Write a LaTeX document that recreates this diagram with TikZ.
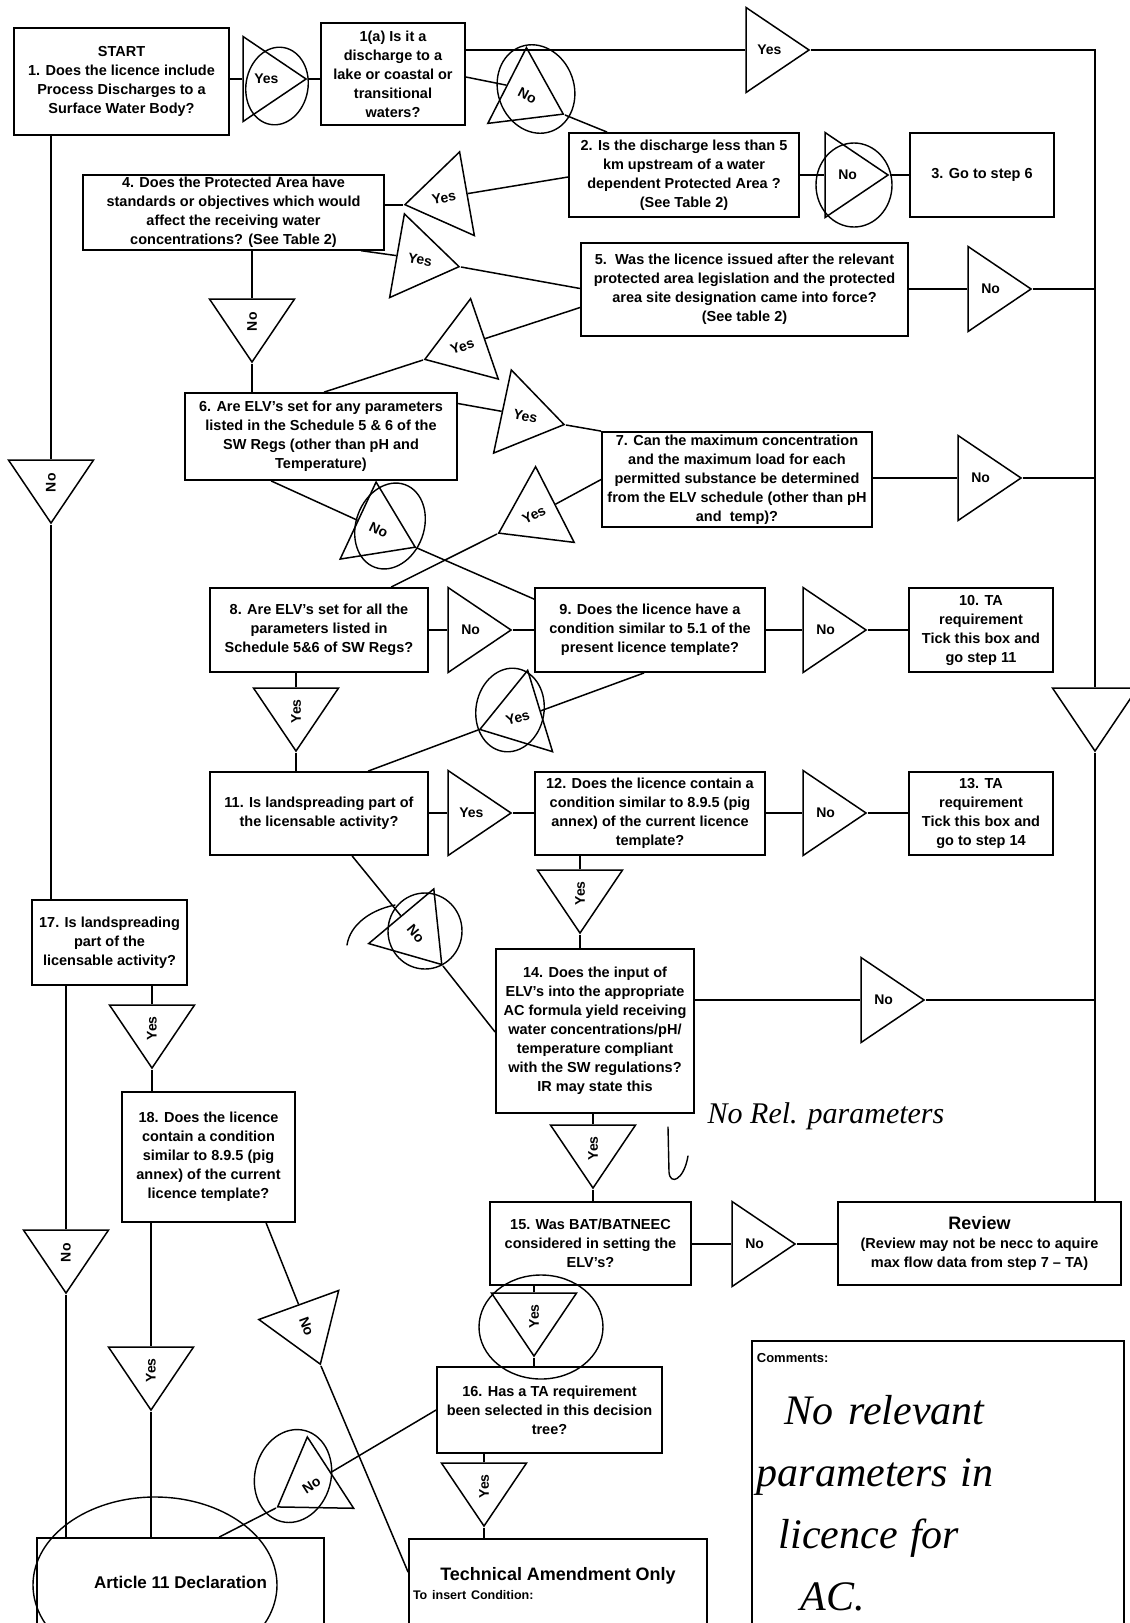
\documentclass[tikz,border=0pt]{standalone}
\usepackage{fontspec}
\setmainfont{Liberation Sans}
\newfontfamily\handfont{Liberation Serif}
\usetikzlibrary{shapes.geometric,calc}

\newcommand{\boxfont}{\fontsize{14.5}{19}\selectfont\bfseries}
\newcommand{\trifont}{\fontsize{14}{16}\selectfont\bfseries}
\newcommand{\handtext}{\handfont\itshape\mdseries\fontsize{42}{62}\selectfont}

\begin{document}
\begin{tikzpicture}[
    x=1pt, y=-1pt,
    qbox/.style={rectangle, draw, line width=1.8pt, align=center, inner sep=2pt, font=\boxfont},
    tri/.style={isosceles triangle, isosceles triangle stretches, draw, line width=1.5pt, minimum width=85pt, minimum height=63pt, inner sep=0pt, font=\trifont},
    ltri/.style={tri, shape border rotate=180},
    link/.style={line width=1.5pt},
    scribble/.style={line width=1.4pt, line cap=round}
]
    \useasboundingbox (0,0) rectangle (1130,1623);
    \fill[white] (0,0) rectangle (1130,1623);

    % question boxes
    \node[qbox, minimum width=215pt, minimum height=107pt] (start) at (121.5,81.5) {START\\1. Does the licence include\\Process Discharges to a\\Surface Water Body?};
    \node[qbox, minimum width=144pt, minimum height=102pt] (q1a) at (393,74) {1(a) Is it a\\discharge to a\\lake or coastal or\\transitional\\waters?};
    \node[qbox, minimum width=230pt, minimum height=84pt] (q2) at (684,175) {2. Is the discharge less than 5\\km upstream of a water\\dependent Protected Area ?\\(See Table 2)};
    \node[qbox, minimum width=144pt, minimum height=84pt] (q3) at (982,175) {3. Go to step 6};
    \node[qbox, minimum width=301pt, minimum height=73pt] (q4) at (233.5,212.5) {4. Does the Protected Area have\\standards or objectives which would\\affect the receiving water\\concentrations? (See Table 2)};
    \node[qbox, minimum width=327pt, minimum height=93pt] (q5) at (744.5,289.5) {5.\ \ Was the licence issued after the relevant\\protected area legislation and the protected\\area site designation came into force?\\(See table 2)};
    \node[qbox, minimum width=272pt, minimum height=87pt] (q6) at (321,436.5) {6. Are ELV's set for any parameters\\listed in the Schedule 5 \& 6 of the\\SW Regs (other than pH and\\Temperature)};
    \node[qbox, minimum width=270pt, minimum height=95pt] (q7) at (737,479.5) {7. Can the maximum concentration\\and the maximum load for each\\permitted substance be determined\\from the ELV schedule (other than pH\\and\ \ temp)?};
    \node[qbox, minimum width=218pt, minimum height=84pt] (q8) at (319,630) {8. Are ELV's set for all the\\parameters listed in\\Schedule 5\&6 of SW Regs?};
    \node[qbox, minimum width=230pt, minimum height=84pt] (q9) at (650,630) {9. Does the licence have a\\condition similar to 5.1 of the\\present licence template?};
    \node[qbox, minimum width=144pt, minimum height=84pt] (q10) at (981,630) {10. TA\\requirement\\Tick this box and\\go step 11};
    \node[qbox, minimum width=218pt, minimum height=83pt] (q11) at (319,813.5) {11. Is landspreading part of\\the licensable activity?};
    \node[qbox, minimum width=230pt, minimum height=83pt] (q12) at (650,813.5) {12. Does the licence contain a\\condition similar to 8.9.5 (pig\\annex) of the current licence\\template?};
    \node[qbox, minimum width=144pt, minimum height=83pt] (q13) at (981,813.5) {13. TA\\requirement\\Tick this box and\\go to step 14};
    \node[qbox, minimum width=198pt, minimum height=164pt] (q14) at (595,1031) {14. Does the input of\\ELV's into the appropriate\\AC formula yield receiving\\water concentrations/pH/\\temperature compliant\\with the SW regulations?\\IR may state this};
    \node[qbox, minimum width=201pt, minimum height=83pt] (q15) at (590.5,1243.5) {15. Was BAT/BATNEEC\\considered in setting the\\ELV's?};
    \node[qbox, minimum width=283pt, minimum height=83pt] (review) at (979.5,1243.5) {{\fontsize{18}{20}\selectfont Review}\\(Review may not be necc to aquire\\max flow data from step 7 -- TA)};
    \node[qbox, minimum width=225pt, minimum height=86pt] (q16) at (549.5,1410) {16. Has a TA requirement\\been selected in this decision\\tree?};
    \node[qbox, minimum width=155pt, minimum height=85pt] (q17) at (109.5,942.5) {17. Is landspreading\\part of the\\licensable activity?};
    \node[qbox, minimum width=173pt, minimum height=130pt] (q18) at (208.5,1157) {18. Does the licence\\contain a condition\\similar to 8.9.5 (pig\\annex) of the current\\licence template?};
    \node[qbox, minimum width=287pt, minimum height=88pt, font=\fontsize{17}{20}\selectfont\bfseries] (art) at (180.5,1582) {Article 11 Declaration};
    \node[qbox, minimum width=298pt, minimum height=89pt, text width=290pt] (ta) at (558,1583.5) {{\fontsize{18}{22}\selectfont Technical Amendment Only}\\\makebox[290pt][l]{\fontsize{12.5}{15}\selectfont To insert Condition:}};
    \node[qbox, anchor=north west, text width=362pt, inner sep=5pt, align=left, text height=17pt, text depth=300pt, font=\fontsize{13}{62}\selectfont\bfseries] (comments) at (751,1340) {Comments:\\{\handtext\hspace*{28pt}No\hspace{10pt} relevant}\\{\handtext parameters\hspace{8pt} in}\\{\handtext\hspace*{22pt}licence\hspace{8pt} for}\\{\handtext\hspace*{44pt}AC.}};

    % yes / no triangles
    \node[tri, anchor=apex] (t1) at (308,79) {Yes};
    \node[tri, anchor=apex] (ttop) at (811,50) {Yes};
    \node[tri, rotate=-27, anchor=apex] (tno1) at (565,115) {No};
    \node[tri, anchor=apex] (tno2) at (890,175) {No};
    \node[ltri, rotate=10, anchor=apex] (tyes4) at (403,205) {Yes};
    \node[tri, rotate=-10, anchor=apex] (tyes5) at (461,267) {Yes};
    \node[ltri, rotate=90, anchor=apex] (tno3) at (252,364) {No};
    \node[ltri, rotate=19, anchor=apex] (tyes6) at (423,360) {Yes};
    \node[tri, rotate=-12, anchor=apex] (tyes7) at (566,425) {Yes};
    \node[tri, anchor=apex] (tno5) at (1033,289) {No};
    \node[tri, rotate=-25, anchor=apex] (tnoA) at (417,548) {No};
    \node[ltri, rotate=27, anchor=apex] (tyes8) at (497,534) {Yes};
    \node[tri, anchor=apex] (tnoB) at (1023,478) {No};
    \node[ltri, rotate=90, anchor=apex] (tbig) at (1095,753) {};
    \node[tri, anchor=apex] (tno8) at (513,630) {No};
    \node[tri, anchor=apex] (tno9) at (868,630) {No};
    \node[ltri, rotate=90, anchor=apex] (tyesC) at (296,753) {Yes};
    \node[ltri, rotate=17, anchor=apex] (tyesD) at (478,730) {Yes};
    \node[tri, anchor=apex] (tyes11) at (513,813) {Yes};
    \node[tri, anchor=apex] (tno12) at (868,813) {No};
    \node[ltri, rotate=90, anchor=apex] (tyesE) at (580,935) {Yes};
    \node[tri, rotate=-50, anchor=apex] (tnoC) at (443,966) {No};
    \node[tri, anchor=apex] (tnoD) at (926,1000) {No};
    \node[ltri, rotate=90, anchor=apex] (tyesF) at (593,1190) {Yes};
    \node[tri, anchor=apex] (tnoE) at (797,1244) {No};
    \node[ltri, rotate=90, anchor=apex] (tyesG) at (534,1358) {Yes};
    \node[ltri, rotate=90, anchor=apex] (tyesH) at (484,1528) {Yes};
    \node[ltri, rotate=33, anchor=apex] (tnoF) at (276,1508) {No};
    \node[ltri, rotate=90, anchor=apex] (tnoL) at (51,525) {No};
    \node[ltri, rotate=90, anchor=apex] (tyesI) at (152,1070) {Yes};
    \node[ltri, rotate=90, anchor=apex] (tnoM) at (66,1295) {No};
    \node[ltri, rotate=90, anchor=apex] (tyesJ) at (151,1412) {Yes};
    \node[tri, rotate=-70, anchor=apex] (tnoN) at (321,1366) {No};

    \coordinate (rtop) at (1095,50);

    % connectors
    \draw[link] (start.east |- t1.lower side) -- (t1.lower side);
    \draw[link] (t1.apex) -- (t1.apex -| q1a.west);
    \draw[link] (ttop.lower side -| q1a.east) -- (ttop.lower side);
    \draw[link] (ttop.apex) -- (rtop) -- (tbig.lower side);
    \draw[link] (tbig.apex) -- (tbig.apex |- review.north);
    \draw[link] ($(q1a.east)+(0,3)$) -- (tno1.lower side);
    \draw[link] (tno1.apex) -- ($(q2.north west)+(39,0)$);
    \draw[link] (q2.east |- tno2.lower side) -- (tno2.lower side);
    \draw[link] (tno2.apex) -- (tno2.apex -| q3.west);
    \draw[link] (q4.east |- tyes4.apex) -- (tyes4.apex);
    \draw[link] (tyes4.lower side) -- ($(q2.west)+(0,2)$);
    \draw[link] ($(q4.south east)+(-24,0)$) -- (tyes5.lower side);
    \draw[link] (tyes5.apex) -- ($(q5.west)+(0,-1)$);
    \draw[link] (tno3.lower side) -- (tno3.lower side |- q4.south);
    \draw[link] (tno3.apex) -- (tno3.apex |- q6.north);
    \draw[link] ($(q6.north west)+(140,0)$) -- (tyes6.apex);
    \draw[link] (tyes6.lower side) -- ($(q5.west)+(0,18)$);
    \draw[link] ($(q6.east)+(0,-33)$) -- (tyes7.lower side);
    \draw[link] (tyes7.apex) -- (q7.north west);
    \draw[link] (q5.east |- tno5.lower side) -- (tno5.lower side);
    \draw[link] (tno5.apex) -- (tno5.apex -| rtop);
    \draw[link] ($(q6.south west)+(87,0)$) -- (tnoA.lower side);
    \draw[link] (tnoA.apex) -- ($(q9.north west)+(0,12)$);
    \draw[link] (q7.west) -- (tyes8.lower side);
    \draw[link] (tyes8.apex) -- ($(q8.north west)+(182,0)$);
    \draw[link] (q7.east |- tnoB.lower side) -- (tnoB.lower side);
    \draw[link] (tnoB.apex) -- (tnoB.apex -| rtop);
    \draw[link] (q8.east |- tno8.lower side) -- (tno8.lower side);
    \draw[link] (tno8.apex) -- (tno8.apex -| q9.west);
    \draw[link] (q9.east |- tno9.lower side) -- (tno9.lower side);
    \draw[link] (tno9.apex) -- (tno9.apex -| q10.west);
    \draw[link] (tyesC.lower side) -- (tyesC.lower side |- q8.south);
    \draw[link] (tyesC.apex) -- (tyesC.apex |- q11.north);
    \draw[link] ($(q9.south west)+(110,0)$) -- (tyesD.lower side);
    \draw[link] (tyesD.apex) -- ($(q11.north west)+(159,0)$);
    \draw[link] (q11.east |- tyes11.lower side) -- (tyes11.lower side);
    \draw[link] (tyes11.apex) -- (tyes11.apex -| q12.west);
    \draw[link] (q12.east |- tno12.lower side) -- (tno12.lower side);
    \draw[link] (tno12.apex) -- (tno12.apex -| q13.west);
    \draw[link] (tyesE.lower side) -- (tyesE.lower side |- q12.south);
    \draw[link] (tyesE.apex) -- (tyesE.apex |- q14.north);
    \draw[link] ($(q11.south west)+(143,0)$) -- (tnoC.lower side);
    \draw[link] (tnoC.apex) -- ($(q14.west)+(0,1)$);
    \draw[link] (q14.east |- tnoD.lower side) -- (tnoD.lower side);
    \draw[link] (tnoD.apex) -- (tnoD.apex -| rtop);
    \draw[link] (tyesF.lower side) -- (tyesF.lower side |- q14.south);
    \draw[link] (tyesF.apex) -- (tyesF.apex |- q15.north);
    \draw[link] (q15.east |- tnoE.lower side) -- (tnoE.lower side);
    \draw[link] (tnoE.apex) -- (tnoE.apex -| review.west);
    \draw[link] (tyesG.lower side) -- (tyesG.lower side |- q15.south);
    \draw[link] (tyesG.apex) -- (tyesG.apex |- q16.north);
    \draw[link] (tyesH.lower side) -- (tyesH.lower side |- q16.south);
    \draw[link] (tyesH.apex) -- (tyesH.apex |- ta.north);
    \draw[link] (q16.west) -- (tnoF.lower side);
    \draw[link] (tnoF.apex) -- ($(art.north west)+(183,0)$);
    \draw[link] (tnoL.lower side) -- (tnoL.lower side |- start.south);
    \draw[link] (tnoL.apex) -- (tnoL.apex |- q17.north);
    \draw[link] (tyesI.lower side) -- (tyesI.lower side |- q17.south);
    \draw[link] (tyesI.apex) -- (tyesI.apex |- q18.north);
    \draw[link] (tnoM.lower side) -- (tnoM.lower side |- q17.south);
    \draw[link] (tnoM.apex) -- (tnoM.apex |- art.north);
    \draw[link] (tyesJ.lower side) -- (tyesJ.lower side |- q18.south);
    \draw[link] (tyesJ.apex) -- (tyesJ.apex |- art.north);
    \draw[link] ($(q18.south west)+(145,0)$) -- (tnoN.lower side);
    \draw[link] (tnoN.apex) -- ($(ta.north west)+(0,34)$);

    % pen marks
    \node[font=\handfont\itshape\fontsize{30}{30}\selectfont] (note) at (826,1116) {No Rel. parameters};
    \draw[scribble] (668,1127) -- (669,1172) .. controls (670,1186) and (684,1180) .. (688,1156);
    \draw[scribble, rotate around={-10:(277,86)}] (277,86) ellipse [x radius=31pt, y radius=39pt];
    \draw[scribble, rotate around={20:(536,89)}] (536,89) ellipse [x radius=38pt, y radius=45pt];
    \draw[scribble] (854,185) ellipse [x radius=38pt, y radius=42pt];
    \draw[scribble, rotate around={-20:(390,526)}] (390,526) ellipse [x radius=34pt, y radius=44pt];
    \draw[scribble, rotate around={-10:(510,710)}] (510,710) ellipse [x radius=34pt, y radius=42pt];
    \draw[scribble] (425,931) ellipse [x radius=37pt, y radius=38pt];
    \draw[scribble] (395,905) .. controls (370,910) and (350,925) .. (347,945);
    \draw[scribble] (541,1327) ellipse [x radius=62pt, y radius=52pt];
    \draw[scribble, rotate around={-15:(293,1476)}] (293,1476) ellipse [x radius=38pt, y radius=47pt];
    \draw[scribble] (155,1585) ellipse [x radius=122pt, y radius=88pt];
\end{tikzpicture}
\end{document}
